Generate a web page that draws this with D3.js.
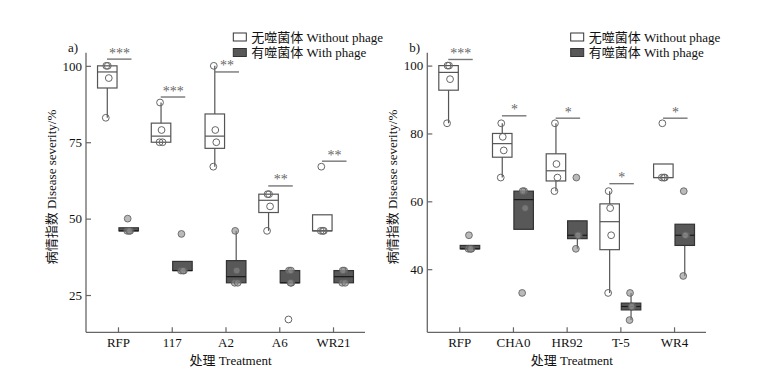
<!DOCTYPE html>
<html>
<head>
<meta charset="utf-8">
<script src="https://cdn.jsdelivr.net/npm/d3@7"></script>
<style>
  body { margin: 0; background: #fff; }
  svg { display: block; }
  text { font-family: "Liberation Serif", "Noto Sans CJK SC", serif; }
</style>
</head>
<body>
<svg width="758" height="378"></svg>
<script>
// panel a
var groupsA = ['RFP', '117', 'A2', 'A6', 'WR21'];
var withoutA = [[83, 96, 100, 100], [75, 75, 79, 88], [67, 75, 79, 100], [46, 54, 58, 58], [46, 46, 46, 67]];
var withA = [[46, 46, 46, 50], [33, 33, 33, 45], [29, 29, 33, 46], [17, 29, 29, 33, 33], [29, 29, 33, 33]];
var hollowA = [[], [], [], [17], []];
var sigA = ['***', '***', '**', '**', '**'];
var sigLevelA = [102.2, 89.8, 98, 60.7, 68.8];
var ticksA = [25, 50, 75, 100];
var domainA = [12.8, 104.3];

// panel b
var groupsB = ['RFP', 'CHA0', 'HR92', 'T-5', 'WR4'];
var withoutB = [[83, 96, 100, 100], [67, 75, 79, 83], [63, 67, 71, 83], [33, 50, 58, 63], [67, 67, 67, 83]];
var withB = [[46, 46, 46, 50], [33, 58, 63, 63], [46, 50, 50, 67], [25, 29, 29, 33], [38, 50, 50, 63]];
var hollowB = [[], [], [], [], []];
var sigB = ['***', '*', '*', '*', '*'];
var sigLevelB = [101.8, 85.2, 84.5, 65.2, 84.5];
var ticksB = [40, 60, 80, 100];
var domainB = [21.4, 103.8];

var legendLabels = ['无噬菌体 Without phage', '有噬菌体 With phage'];
var xTitle = '处理 Treatment';
var yTitle = '病情指数 Disease severity/%';

var jit = [-1.5, 1.5, 0.5, -1, 1];

var svg = d3.select('svg');

drawPanel({
    tag: 'a)', groups: groupsA, without: withoutA, with: withA, hollow: hollowA,
    sig: sigA, sigLevel: sigLevelA, ticks: ticksA, domain: domainA,
    x0: 86, x1: 365, legendX: 233.3
});
drawPanel({
    tag: 'b)', groups: groupsB, without: withoutB, with: withB, hollow: hollowB,
    sig: sigB, sigLevel: sigLevelB, ticks: ticksB, domain: domainB,
    x0: 427.3, x1: 706, legendX: 570.7
});

function stats(vals) {
    var s = vals.slice().sort(d3.ascending);
    var q1 = d3.quantile(s, 0.25), med = d3.quantile(s, 0.5), q3 = d3.quantile(s, 0.75);
    var iqr = q3 - q1;
    var inside = s.filter(v => v >= q1 - 1.5 * iqr && v <= q3 + 1.5 * iqr);
    return { q1, med, q3, lo: Math.min(d3.min(inside), q1), hi: Math.max(d3.max(inside), q3), s };
}

function drawPanel(p) {
    var yTop = 52.7, yBot = 332.3;
    var g = svg.append('g');

    var x = d3.scalePoint().domain(p.groups).range([p.x0, p.x1]).padding(0.595);
    var y = d3.scaleLinear().domain(p.domain).range([yBot, yTop]);

    var boxW = 19.5, off = 10.7;

    var series = [
        { data: p.without, dx: -off, fill: '#fff', stroke: '#555', med: '#555', pt: 'open' },
        { data: p.with, dx: off, fill: '#585858', stroke: '#333', med: '#1a1a1a', pt: 'grey' }
    ];

    series.forEach(function (sr) {
        var items = sr.data.map((vals, i) => Object.assign(stats(vals), { key: p.groups[i], i }));
        var bg = g.selectAll(null).data(items).enter().append('g');
        bg.append('line')
            .attr('x1', d => x(d.key) + sr.dx).attr('x2', d => x(d.key) + sr.dx)
            .attr('y1', d => y(d.hi)).attr('y2', d => y(d.lo))
            .attr('stroke', '#555').attr('stroke-width', 1.2);
        bg.append('rect')
            .attr('x', d => x(d.key) + sr.dx - boxW / 2).attr('width', boxW)
            .attr('y', d => y(d.q3)).attr('height', d => Math.max(y(d.q1) - y(d.q3), 1.5))
            .attr('fill', sr.fill).attr('stroke', sr.stroke).attr('stroke-width', 1.2);
        bg.append('line')
            .attr('x1', d => x(d.key) + sr.dx - boxW / 2).attr('x2', d => x(d.key) + sr.dx + boxW / 2)
            .attr('y1', d => y(d.med)).attr('y2', d => y(d.med))
            .attr('stroke', sr.med).attr('stroke-width', 1.2);

        items.forEach(function (d) {
            var hollow = p.hollow[d.i].slice();
            d.s.forEach(function (v, j) {
                var isOpen = sr.pt === 'open';
                var h = hollow.indexOf(v);
                if (!isOpen && h >= 0) { isOpen = true; hollow.splice(h, 1); }
                g.append('circle')
                    .attr('cx', x(d.key) + sr.dx + jit[j % jit.length])
                    .attr('cy', y(v))
                    .attr('r', 3.4)
                    .attr('fill', isOpen ? (sr.pt === 'open' ? 'none' : '#fff') : 'rgba(140,140,140,0.6)')
                    .attr('stroke', isOpen ? '#666' : 'rgba(90,90,90,0.8)')
                    .attr('stroke-width', 1);
            });
        });
    });

    // significance bars
    var sg = g.selectAll(null).data(p.groups).enter().append('g');
    sg.append('line')
        .attr('x1', d => x(d) - 11).attr('x2', d => x(d) + 13.5)
        .attr('y1', (d, i) => y(p.sigLevel[i])).attr('y2', (d, i) => y(p.sigLevel[i]))
        .attr('stroke', '#777').attr('stroke-width', 1.4);
    sg.append('text')
        .attr('x', d => x(d) + 1.5)
        .attr('y', (d, i) => y(p.sigLevel[i]) - 1.5)
        .attr('text-anchor', 'middle')
        .attr('font-size', 14)
        .attr('fill', '#666')
        .text((d, i) => p.sig[i]);

    // axes
    var ya = g.append('g').attr('transform', `translate(${p.x0},0)`)
        .call(d3.axisLeft(y).tickValues(p.ticks).tickSize(-5).tickSizeOuter(0).tickPadding(4));
    var xa = g.append('g').attr('transform', `translate(0,${yBot})`)
        .call(d3.axisBottom(x).tickSize(-5).tickSizeOuter(0).tickPadding(5));
    [ya, xa].forEach(function (a) {
        a.attr('font-family', null).attr('font-size', 13);
        a.select('.domain').attr('stroke', '#666').attr('stroke-width', 1.3);
        a.selectAll('.tick line').attr('stroke', '#666').attr('stroke-width', 1.2);
        a.selectAll('.tick text').attr('fill', '#111');
    });
    xa.select('.domain').attr('d', `M${p.x0},0H${p.x1}`);
    ya.select('.domain').attr('d', `M0,${yTop}V${yBot}`);

    g.append('text')
        .attr('x', p.x0 + 144.5).attr('y', 365)
        .attr('text-anchor', 'middle').attr('font-size', 13).attr('fill', '#111')
        .text(xTitle);
    g.append('text')
        .attr('transform', `translate(${p.x0 - 30},187) rotate(-90)`)
        .attr('text-anchor', 'middle').attr('font-size', 13).attr('fill', '#111')
        .text(yTitle);
    g.append('text')
        .attr('x', p.x0 - 18).attr('y', 52)
        .attr('font-size', 13).attr('fill', '#111')
        .text(p.tag);

    // legend
    var lg = g.selectAll(null).data(legendLabels).enter().append('g')
        .attr('transform', (d, i) => `translate(${p.legendX},${33 + i * 15.5})`);
    lg.append('rect')
        .attr('width', 13).attr('height', 8)
        .attr('fill', (d, i) => i ? '#585858' : '#fff')
        .attr('stroke', '#333').attr('stroke-width', 1);
    lg.append('text')
        .attr('x', 18).attr('y', 8.5)
        .attr('font-size', 13).attr('fill', '#111')
        .text(d => d);
}
</script>
</body>
</html>
